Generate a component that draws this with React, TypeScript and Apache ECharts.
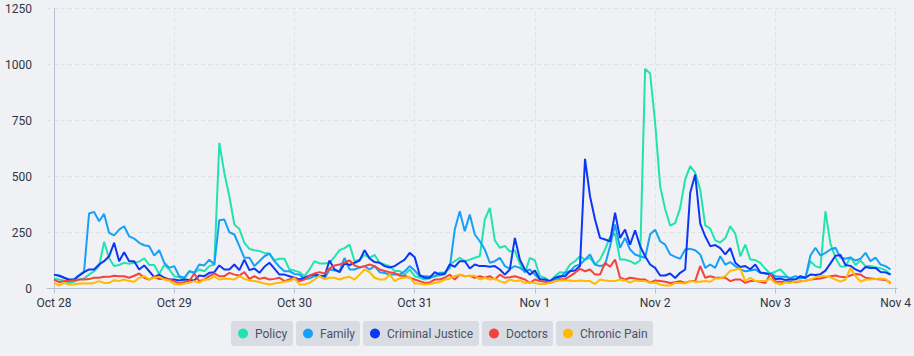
import React, { useEffect, useRef } from "react";
import * as echarts from "echarts";

// Tick labels
const dayLabels = ["Oct 28", "Oct 29", "Oct 30", "Oct 31", "Nov 1", "Nov 2", "Nov 3", "Nov 4"];
const dayTickHours = [0, 24, 48, 72, 96, 120, 144, 168];

// Series names and colours
const seriesNames = ["Policy", "Family", "Criminal Justice", "Doctors", "Chronic Pain"];
const seriesColors = ["#22e3b0", "#17a0f7", "#0b37f5", "#f4433a", "#ffbb00"];

// Hourly values, Oct 28 00:00 .. Nov 3 23:00
const policy = [
  45, 40, 35, 25, 30, 40, 45, 62, 77, 100, 208, 135, 100, 105, 115, 110, 115, 120, 135, 105, 105, 65, 105, 85,
  55, 50, 40, 77, 70, 85, 77, 100, 107, 650, 516, 412, 286, 266, 204, 177, 171, 167, 159, 156, 126, 133, 133, 85,
  80, 73, 55, 85, 122, 112, 112, 115, 141, 171, 180, 196, 122, 128, 150, 137, 150, 115, 107, 100, 78, 78, 62, 85,
  55, 48, 40, 45, 55, 58, 62, 107, 122, 137, 122, 129, 137, 144, 308, 360, 215, 182, 190, 165, 170, 110, 70, 137,
  125, 55, 48, 33, 55, 73, 70, 107, 122, 144, 129, 137, 107, 129, 174, 230, 245, 129, 129, 122, 110, 125, 981, 960,
  740, 457, 355, 281, 292, 360, 487, 546, 517, 442, 282, 267, 215, 205, 224, 278, 245, 144, 196, 129, 127, 114, 88, 66,
  75, 85, 62, 40, 42, 45, 50, 122, 100, 92, 345, 200, 137, 98, 98, 140, 105, 125, 100, 100, 95, 90, 82, 62,
];

const family = [
  62, 58, 49, 35, 40, 60, 75, 335, 342, 300, 333, 248, 237, 263, 278, 233, 223, 204, 193, 189, 147, 171, 115, 92,
  100, 55, 48, 77, 70, 107, 103, 129, 107, 305, 308, 251, 241, 189, 137, 137, 100, 122, 144, 156, 122, 97, 77, 77,
  65, 62, 43, 45, 55, 55, 43, 85, 80, 78, 137, 85, 85, 94, 100, 85, 100, 73, 69, 62, 62, 62, 77, 100,
  80, 55, 55, 54, 55, 70, 70, 92, 263, 345, 256, 330, 241, 211, 174, 115, 122, 137, 100, 88, 100, 92, 77, 85,
  62, 40, 40, 33, 40, 48, 70, 77, 100, 107, 129, 152, 107, 100, 105, 189, 286, 182, 226, 174, 152, 144, 137, 241,
  263, 211, 196, 152, 141, 133, 174, 177, 171, 152, 92, 107, 92, 144, 107, 118, 100, 85, 77, 80, 85, 70, 67, 67,
  55, 52, 52, 47, 55, 47, 47, 147, 182, 147, 159, 174, 182, 138, 133, 138, 125, 133, 159, 122, 138, 107, 100, 85,
];

const criminalJustice = [
  62, 57, 48, 40, 40, 57, 73, 85, 85, 107, 122, 144, 204, 122, 162, 122, 122, 85, 103, 77, 51, 62, 48, 40,
  40, 36, 40, 38, 36, 58, 55, 70, 73, 103, 85, 85, 107, 82, 129, 82, 89, 70, 97, 115, 89, 62, 62, 55,
  48, 40, 48, 57, 62, 58, 55, 125, 85, 73, 112, 105, 115, 125, 171, 134, 118, 115, 100, 94, 100, 115, 129, 159,
  140, 60, 48, 48, 73, 62, 66, 107, 97, 122, 122, 89, 107, 100, 100, 97, 100, 85, 62, 85, 226, 129, 85, 62,
  80, 40, 40, 33, 48, 55, 55, 77, 80, 100, 579, 412, 308, 226, 219, 211, 338, 226, 263, 196, 260, 189, 144, 107,
  92, 58, 58, 67, 47, 70, 85, 427, 509, 290, 233, 189, 194, 180, 152, 180, 115, 96, 100, 86, 107, 71, 68, 62,
  42, 44, 38, 40, 40, 55, 48, 62, 60, 64, 80, 112, 146, 150, 105, 101, 85, 75, 96, 92, 92, 74, 72, 62,
];

const doctors = [
  40, 28, 33, 33, 37, 40, 40, 42, 48, 48, 52, 52, 57, 55, 55, 48, 57, 67, 48, 40, 52, 42, 42, 40,
  33, 22, 29, 33, 67, 33, 40, 55, 67, 55, 55, 70, 62, 58, 73, 43, 55, 43, 48, 40, 43, 48, 33, 40,
  48, 33, 40, 57, 67, 73, 67, 89, 103, 107, 115, 125, 103, 94, 100, 107, 100, 85, 78, 73, 69, 57, 57, 48,
  40, 33, 25, 27, 40, 40, 48, 62, 40, 62, 55, 57, 48, 55, 48, 55, 40, 62, 48, 50, 55, 48, 40, 25,
  40, 33, 30, 26, 33, 40, 42, 55, 70, 88, 77, 85, 62, 62, 115, 97, 129, 48, 40, 48, 45, 40, 40, 26,
  36, 33, 30, 25, 28, 33, 25, 33, 33, 100, 48, 55, 48, 48, 48, 33, 40, 40, 25, 33, 33, 30, 25, 65,
  30, 30, 28, 30, 28, 32, 35, 40, 42, 45, 50, 55, 58, 52, 50, 58, 65, 62, 48, 45, 42, 40, 38, 25,
];

const chronicPain = [
  25, 13, 25, 18, 18, 22, 22, 22, 25, 33, 25, 25, 37, 33, 40, 33, 30, 48, 55, 40, 48, 52, 40, 35,
  20, 18, 22, 26, 33, 26, 40, 40, 55, 40, 43, 43, 40, 55, 43, 36, 33, 29, 22, 18, 22, 26, 30, 33,
  45, 18, 18, 25, 40, 57, 42, 48, 48, 40, 48, 52, 40, 62, 85, 73, 48, 40, 40, 62, 33, 45, 48, 52,
  22, 22, 18, 20, 25, 29, 40, 44, 55, 62, 55, 57, 57, 40, 48, 40, 44, 33, 25, 40, 33, 36, 25, 28,
  24, 20, 20, 26, 33, 36, 36, 36, 33, 36, 33, 33, 20, 40, 36, 33, 33, 40, 36, 26, 36, 33, 33, 26,
  27, 18, 13, 13, 25, 25, 22, 33, 30, 30, 33, 30, 45, 45, 55, 79, 84, 89, 33, 48, 33, 33, 33, 45,
  25, 18, 28, 25, 31, 31, 35, 40, 50, 55, 55, 50, 40, 31, 40, 92, 55, 31, 40, 40, 42, 45, 42, 20,
];

const allSeries = [policy, family, criminalJustice, doctors, chronicPain];

const FONT = "Roboto, 'Noto Sans', sans-serif";
const GRID_COLOR = "#dde1e8";

function measure(text: string, size: number): number {
  const c = document.createElement("canvas").getContext("2d");
  if (!c) return text.length * size * 0.5;
  c.font = `${size}px Roboto`;
  return c.measureText(text).width;
}

export default function App() {
  const ref = useRef<HTMLDivElement>(null);

  useEffect(() => {
    if (!ref.current) return;
    const chart = echarts.init(ref.current, undefined, { renderer: "svg" });

    // Custom legend built as graphic elements
    const legendChildren: any[] = [];
    let lx = 231;
    const ly = 321;
    const lh = 25;
    seriesNames.forEach((name, i) => {
      const tw = measure(name, 12);
      const w = Math.round(24 + tw + 5.5);
      legendChildren.push({
        type: "rect",
        shape: { x: lx, y: ly, width: w, height: lh, r: 3 },
        style: { fill: "#d9dde3" },
        silent: true,
      });
      legendChildren.push({
        type: "circle",
        shape: { cx: lx + 12, cy: ly + lh / 2, r: 5 },
        style: { fill: seriesColors[i] },
        silent: true,
      });
      legendChildren.push({
        type: "text",
        x: lx + 24,
        y: ly + lh / 2,
        style: {
          text: name,
          fill: "#4a5266",
          font: `12px ${FONT}`,
          textVerticalAlign: "middle",
          verticalAlign: "middle",
        },
        silent: true,
      });
      lx += w + 3;
    });

    const series: any[] = seriesNames.map((name, si) => ({
      name,
      type: "line",
      data: allSeries[si].map((v, h) => [h, v]),
      showSymbol: false,
      symbol: "none",
      lineStyle: { width: 2, color: seriesColors[si] },
      itemStyle: { color: seriesColors[si] },
      z: 3,
    }));

    // Vertical dashed grid lines at each day boundary (kept beneath the data lines)
    series.unshift({
      name: "__dayGrid",
      type: "line",
      data: [],
      silent: true,
      z: 0,
      markLine: {
        silent: true,
        z: 0,
        symbol: ["none", "none"],
        label: { show: false },
        lineStyle: { type: [4, 3], color: GRID_COLOR, width: 1 },
        emphasis: { disabled: true },
        data: dayTickHours.map((h) => ({ xAxis: h })),
      },
    });

    chart.setOption({
      animation: false,
      backgroundColor: "#eff1f4",
      textStyle: { fontFamily: FONT },
      grid: { left: 47, right: 10.4, top: 8.5, bottom: 67.5, containLabel: false },
      xAxis: {
        type: "value",
        min: -1.4,
        max: 168.3,
        axisLine: { show: true, lineStyle: { color: "#b7c1d4", width: 1 } },
        axisTick: { show: true, customValues: dayTickHours, length: 5, lineStyle: { color: "#b7c1d4" } },
        axisLabel: {
          customValues: dayTickHours,
          formatter: (v: number) => dayLabels[Math.round(v / 24)] ?? "",
          color: "#2f3644",
          fontSize: 12,
          fontFamily: FONT,
          margin: 8,
        },
        splitLine: { show: false },
      },
      yAxis: {
        type: "value",
        min: 0,
        max: 1250,
        interval: 250,
        axisLine: { show: true, lineStyle: { color: "#b7c1d4", width: 1 } },
        axisTick: { show: false },
        axisLabel: {
          color: "#2f3644",
          fontSize: 12,
          fontFamily: FONT,
          margin: 15,
          formatter: (v: number) => String(v),
        },
        splitLine: { show: true, lineStyle: { type: [4, 3], color: GRID_COLOR, width: 1 } },
      },
      series,
      graphic: legendChildren,
    });

    return () => {
      chart.dispose();
    };
  }, []);

  return (
    <div
      style={{
        position: "fixed",
        left: 0,
        top: 0,
        width: 914,
        height: 356,
        background: "#eff1f4",
      }}
    >
      <div ref={ref} style={{ width: 914, height: 356 }} />
    </div>
  );
}
